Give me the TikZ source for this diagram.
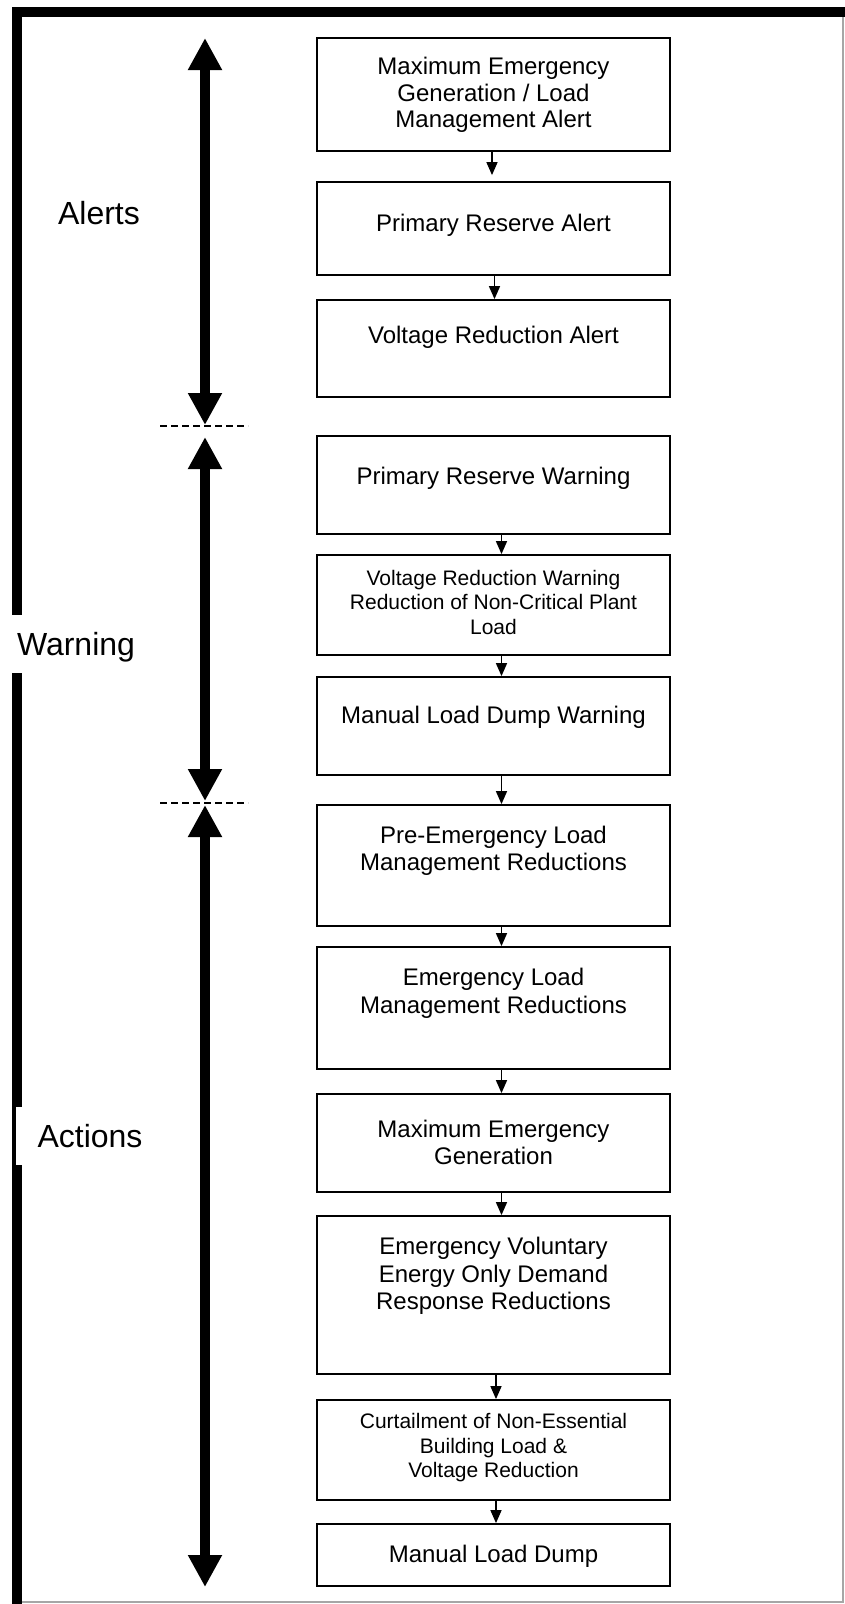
\documentclass[tikz,border=0pt]{standalone}
\usepackage{fontspec}
\setmainfont{Liberation Sans}
\usetikzlibrary{arrows.meta}
\begin{document}
\begin{tikzpicture}[x=1pt,y=-1pt,
  box/.style={draw=black, line width=1.8pt, minimum width=353pt, inner sep=0pt},
  txt/.style={align=center, inner sep=0pt, font=\fontsize{24}{27.5}\selectfont},
  smalltxt/.style={align=center, inner sep=0pt, font=\fontsize{21}{24.5}\selectfont},
  phase/.style={inner sep=0pt, font=\fontsize{32}{36}\selectfont},
  flow/.style={line width=1.5pt, -{Triangle[width=11pt,length=13pt]}},
  span/.style={line width=10pt,
    {Triangle[width=32pt,length=32pt]}-{Triangle[width=32pt,length=32pt]}},
  divider/.style={line width=1.3pt, dash pattern=on 7pt off 4pt},
]
\useasboundingbox (0,0) rectangle (845,1604);

% outer frame: heavy top and left edges, light right and bottom edges
\draw[gray!70, line width=2pt] (843,17) -- (843,1602) -- (22,1602);
\fill[black] (12,7) rectangle (845,17);
\fill[black] (12,7) rectangle (22,615);
\fill[black] (12,673) rectangle (22,1107);
\fill[black] (12,1107) rectangle (16,1165);
\fill[black] (12,1165) rectangle (22,1604);

% phase labels
\node[phase] (lalerts) at (99,213) {Alerts};
\node[phase] (lwarning) at (76,647) {Warning};
\node[phase] (lactions) at (90,1136) {Actions};

% phase spans
\coordinate (alertsTop) at (205,38);
\coordinate (alertsBot) at (205,425);
\coordinate (warnTop) at (205,437);
\coordinate (warnBot) at (205,801);
\coordinate (actTop) at (205,805);
\coordinate (actBot) at (205,1587);
\draw[span] (alertsTop) -- (alertsBot);
\draw[span] (warnTop) -- (warnBot);
\draw[span] (actTop) -- (actBot);

% phase dividers
\coordinate (d1l) at (160,426);
\coordinate (d1r) at (248,426);
\coordinate (d2l) at (160,803);
\coordinate (d2r) at (248,803);
\draw[divider] (d1l) -- (d1r);
\draw[divider] (d2l) -- (d2r);

% step boxes
\node[box, minimum height=113pt] (b1)  at (493.5,94.5)  {};
\node[box, minimum height=93pt]  (b2)  at (493.5,228.5) {};
\node[box, minimum height=97pt]  (b3)  at (493.5,348.5) {};
\node[box, minimum height=98pt]  (b4)  at (493.5,485)   {};
\node[box, minimum height=100pt] (b5)  at (493.5,605)   {};
\node[box, minimum height=98pt]  (b6)  at (493.5,726)   {};
\node[box, minimum height=121pt] (b7)  at (493.5,865.5) {};
\node[box, minimum height=122pt] (b8)  at (493.5,1008)  {};
\node[box, minimum height=98pt]  (b9)  at (493.5,1143)  {};
\node[box, minimum height=158pt] (b10) at (493.5,1295)  {};
\node[box, minimum height=100pt] (b11) at (493.5,1450)  {};
\node[box, minimum height=62pt]  (b12) at (493.5,1555)  {};

% step texts
\node[txt, font=\fontsize{24}{26.3}\selectfont] (t1) at (493.5,95)
  {Maximum Emergency\\Generation / Load\\Management Alert};
\node[txt] (t2) at (493.5,225) {Primary Reserve Alert};
\node[txt] (t3) at (493.5,337) {Voltage Reduction Alert};
\node[txt] (t4) at (493.5,478) {Primary Reserve Warning};
\node[smalltxt] (t5) at (493.5,602)
  {Voltage Reduction Warning\\Reduction of Non-Critical Plant\\Load};
\node[txt] (t6) at (493.5,717) {Manual Load Dump Warning};
\node[txt] (t7) at (493.5,851) {Pre-Emergency Load\\Management Reductions};
\node[txt] (t8) at (493.5,993.5) {Emergency Load\\Management Reductions};
\node[txt] (t9) at (493.5,1142.5) {Maximum Emergency\\Generation};
\node[txt] (t10) at (493.5,1276)
  {Emergency Voluntary\\Energy Only Demand\\Response Reductions};
\node[smalltxt] (t11) at (493.5,1448)
  {Curtailment of Non-Essential\\Building Load \&\\Voltage Reduction};
\node[txt] (t12) at (493.5,1556) {Manual Load Dump};

% step sequence
\draw[flow, shorten >=6pt] ([xshift=-1.5pt]b1.south) -- ([xshift=-1.5pt]b2.north);
\draw[flow] ([xshift=1pt]b2.south) -- ([xshift=1pt]b3.north);
\draw[flow] ([xshift=8pt]b4.south) -- ([xshift=8pt]b5.north);
\draw[flow] ([xshift=8pt]b5.south) -- ([xshift=8pt]b6.north);
\draw[flow] ([xshift=8pt]b6.south) -- ([xshift=8pt]b7.north);
\draw[flow] ([xshift=8pt]b7.south) -- ([xshift=8pt]b8.north);
\draw[flow] ([xshift=8pt]b8.south) -- ([xshift=8pt]b9.north);
\draw[flow] ([xshift=8pt]b9.south) -- ([xshift=8pt]b10.north);
\draw[flow] ([xshift=2.5pt]b10.south) -- ([xshift=2.5pt]b11.north);
\draw[flow] ([xshift=2.5pt]b11.south) -- ([xshift=2.5pt]b12.north);
\end{tikzpicture}
\end{document}
